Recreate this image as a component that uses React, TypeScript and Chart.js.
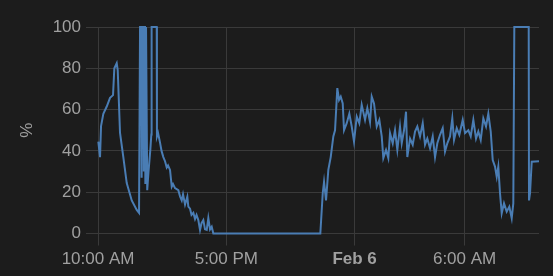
import React, { useEffect, useRef } from "react";
import { Chart, registerables } from "chart.js";

Chart.register(...registerables);

// hours since Feb 5, 00:00
const times: number[] = [
  10.016, 10.109, 10.164, 10.289, 10.475, 10.655, 10.818, 10.889, 11.02, 11.075,
  11.2, 11.38, 11.566, 11.839, 12.112, 12.237, 12.292, 12.362, 12.379, 12.417,
  12.482, 12.499, 12.537, 12.564, 12.581, 12.619, 12.657, 12.684, 12.755, 12.853,
  12.908, 12.924, 13.203, 13.214, 13.274, 13.383, 13.465, 13.563, 13.656, 13.748,
  13.819, 13.928, 14.021, 14.092, 14.201, 14.381, 14.474, 14.567, 14.638, 14.747,
  14.872, 14.927, 15.02, 15.101, 15.2, 15.292, 15.374, 15.472, 15.565, 15.647,
  15.745, 15.838, 15.931, 16.018, 16.111, 16.203, 16.291, 22.129, 22.26, 22.331,
  22.44, 22.565, 22.696, 22.838, 22.931, 23.056, 23.149, 23.242, 23.351, 23.422,
  23.569, 23.711, 23.842, 23.967, 24.115, 24.256, 24.387, 24.568, 24.693, 24.84,
  24.933, 25.058, 25.206, 25.348, 25.479, 25.566, 25.713, 25.839, 25.932, 26.079,
  26.204, 26.33, 26.477, 26.57, 26.695, 26.804, 26.875, 27.023, 27.17, 27.296,
  27.421, 27.568, 27.716, 27.841, 27.967, 28.114, 28.261, 28.387, 28.512, 28.66,
  28.807, 28.932, 29.058, 29.205, 29.33, 29.423, 29.571, 29.713, 29.898, 30.024,
  30.204, 30.335, 30.477, 30.624, 30.749, 30.88, 31.022, 31.169, 31.295, 31.426,
  31.535, 31.66, 31.753, 31.84, 31.933, 32.026, 32.151, 32.298, 32.44, 32.571,
  32.658, 32.713, 33.499, 33.515, 33.57, 33.663, 34.06,
];

const values: number[] = [
  44.5, 37, 52, 58, 61.5, 65.7, 67, 80, 82.5, 79,
  48.7, 37, 24.4, 16, 11.4, 10, 100, 100, 27, 100,
  100, 30, 100, 100, 24, 100, 100, 21, 30, 40.5,
  48, 100, 100, 47, 48.7, 44, 40, 37, 35, 32,
  33, 30.8, 22.7, 24, 22, 21, 18, 16, 19, 14,
  17.8, 13, 12, 9, 10, 7, 9, 6.5, 1.7, 5,
  6.5, 2, 1.7, 7.5, 2, 3.3, 0, 0, 19.5, 25,
  16, 30.8, 37, 47, 50, 70.4, 64.7, 66.3, 63, 50,
  53.4, 58, 51.8, 44.5, 56.6, 53.4, 62.3, 55, 60.7, 54,
  66.3, 63, 51.8, 55, 47, 36.5, 40.5, 36.5, 48.6, 43.7,
  50, 40.5, 51.8, 43.7, 50, 59, 37, 46, 43, 49.4,
  51.8, 47, 53.4, 43, 46, 41.3, 47, 37, 43.7, 47.8,
  51, 39.7, 43.7, 47, 55.8, 45.3, 51, 47.8, 55, 48.6,
  50, 47, 55, 46, 49.4, 45.3, 55.8, 51.8, 58, 49.4,
  35.6, 32.4, 27.5, 32.4, 19.5, 9.8, 14.6, 10.6, 13, 7.4,
  14.6, 100, 100, 16, 19.5, 34.8, 35,
];

const xTickValues: number[] = [10, 17, 24, 30];
const xTickLabels: string[] = ["10:00 AM", "5:00 PM", "Feb 6", "6:00 AM"];
const yAxisTitle = "%";

export default function App() {
  const ref = useRef<HTMLCanvasElement | null>(null);

  useEffect(() => {
    document.body.style.margin = "0";
    document.body.style.background = "#1c1c1c";
    const canvas = ref.current;
    if (!canvas) return;
    const textColor = "#a0a0a0";
    const gridColor = "#3a3a3a";
    const font = { family: "'Liberation Sans', Arial, sans-serif", size: 17 };
    const chart = new Chart(canvas, {
      type: "line",
      data: {
        datasets: [
          {
            data: times.map((t, i) => ({ x: t, y: values[i] })),
            borderColor: "#4a7db4",
            borderWidth: 2,
            pointRadius: 0,
            tension: 0,
            fill: false,
            clip: 3,
          },
        ],
      },
      options: {
        animation: false,
        responsive: false,
        maintainAspectRatio: false,
        layout: { padding: { left: 0, right: 14, top: 27, bottom: 0 } },
        plugins: { legend: { display: false }, tooltip: { enabled: false } },
        scales: {
          x: {
            type: "linear",
            min: 9.78,
            max: 34.06,
            border: { display: false },
            grid: { color: gridColor, tickLength: 12, lineWidth: 1 },
            afterBuildTicks: (scale: any) => {
              scale.ticks = xTickValues.map((v) => ({ value: v }));
            },
            afterFit: (scale: any) => {
              scale.height = 42.5;
            },
            ticks: {
              autoSkip: false,
              maxRotation: 0,
              padding: 4,
              color: textColor,
              font: (ctx: any) => {
                const v = ctx.tick ? ctx.tick.value : null;
                return v === 24 ? { ...font, weight: "bold" } : { ...font };
              },
              callback: (v: any) => {
                const i = xTickValues.indexOf(Number(v));
                return i >= 0 ? xTickLabels[i] : "";
              },
            },
          },
          y: {
            min: 0,
            max: 100,
            border: { display: false },
            grid: { color: gridColor, tickLength: 8, lineWidth: 1 },
            afterFit: (scale: any) => {
              scale.width = 94;
            },
            ticks: { stepSize: 20, padding: 5, color: textColor, font },
            title: {
              display: true,
              text: yAxisTitle,
              color: textColor,
              font,
              padding: { top: 17, bottom: 0 },
            },
          },
        },
      },
    });
    return () => chart.destroy();
  }, []);

  return (
    <div style={{ width: 553, height: 276, background: "#1c1c1c" }}>
      <canvas ref={ref} width={553} height={276} style={{ display: "block" }} />
    </div>
  );
}
